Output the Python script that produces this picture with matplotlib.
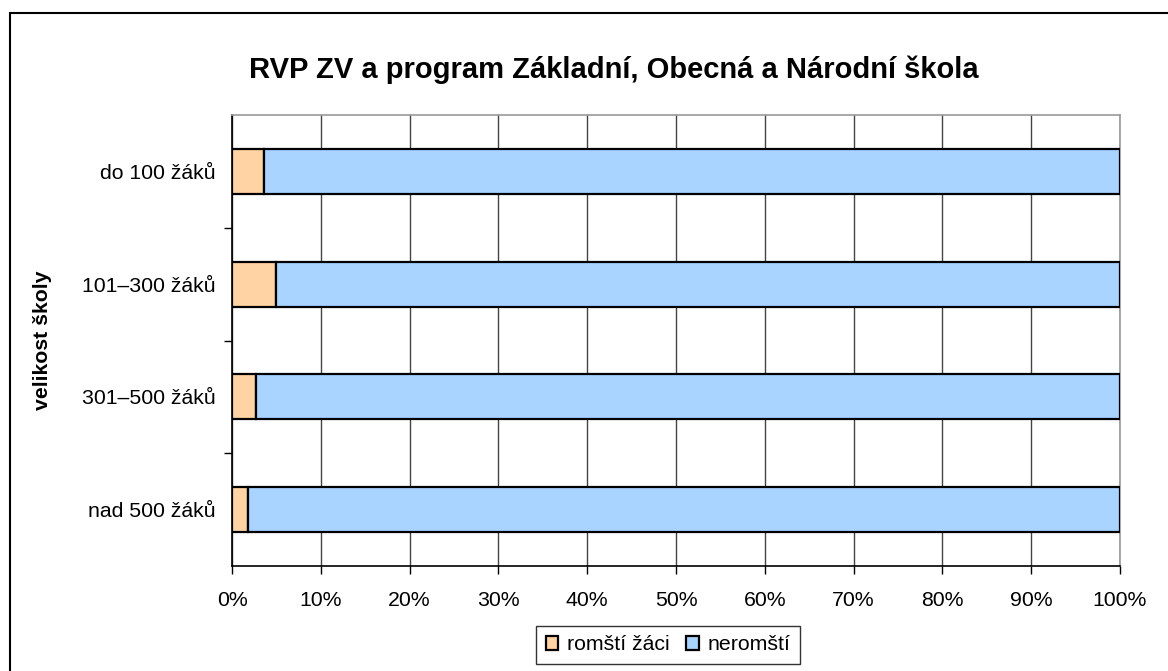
import numpy as np
import matplotlib.pyplot as plt
from matplotlib.patches import Rectangle
from matplotlib.ticker import FixedLocator, FuncFormatter

plt.rcParams['font.family'] = ['Liberation Sans', 'DejaVu Sans']

# data (share in %)
categories = ["do 100 žáků", "101–300 žáků", "301–500 žáků", "nad 500 žáků"]
romsti = [3.6, 5.0, 2.7, 1.8]
neromsti = [100 - v for v in romsti]
series_names = ["romští žáci", "neromští"]
colors = ["#FFD3A3", "#A8D4FF"]

fig = plt.figure(figsize=(11.68, 6.71), dpi=100)
ax = fig.add_axes([232 / 1168, 1 - 566 / 671, (1120 - 232) / 1168, (566 - 115) / 671])

# outer chart border (left and top edges visible only)
fig.patches.append(Rectangle((10 / 1168, -0.1), 1.2, 1 - 13 / 671 + 0.1,
                             transform=fig.transFigure, fill=False,
                             edgecolor='black', lw=1.5))

y = np.arange(len(categories))
ax.barh(y, romsti, height=0.4, color=colors[0], edgecolor='black', lw=1.6,
        label=series_names[0], zorder=3)
ax.barh(y, neromsti, left=romsti, height=0.4, color=colors[1], edgecolor='black',
        lw=1.6, label=series_names[1], zorder=3)

ax.set_xlim(0, 100)
ax.set_ylim(len(categories) - 0.5, -0.5)
ax.set_xticks(np.arange(0, 101, 10))
ax.xaxis.set_major_formatter(FuncFormatter(lambda v, p: f"{int(v)}%"))
ax.set_yticks(y)
ax.set_yticklabels(categories)
ax.yaxis.set_minor_locator(FixedLocator(y[:-1] + 0.5))
ax.tick_params(axis='y', which='major', length=0, pad=12, labelsize=15.3)
ax.tick_params(axis='y', which='minor', length=6, width=1, direction='out')
ax.tick_params(axis='x', length=6, width=1, direction='out', pad=12, labelsize=15.3)

ax.grid(axis='x', color='#444444', lw=1, zorder=0)
ax.spines['left'].set_color('black')
ax.spines['bottom'].set_color('black')
ax.spines['top'].set_color('#999999')
ax.spines['right'].set_color('#999999')
for s in ax.spines.values():
    s.set_linewidth(1.2)

ax.set_ylabel("velikost školy", fontsize=15.3, fontweight='bold')
ax.yaxis.set_label_coords(-0.203, 0.5)

fig.text(614 / 1168, 1 - 70 / 671, "RVP ZV a program Základní, Obecná a Národní škola",
         ha='center', va='center', fontsize=21, fontweight='bold')

leg = fig.legend(loc='center', bbox_to_anchor=(668 / 1168, 1 - 645 / 671), ncol=2,
                 fontsize=15.3, frameon=True, fancybox=False, edgecolor='black',
                 handlelength=0.6, handleheight=0.6, handletextpad=0.4,
                 columnspacing=0.8, borderpad=0.45)
leg.get_frame().set_linewidth(1.0)

fig.savefig("out.png", dpi=100)
